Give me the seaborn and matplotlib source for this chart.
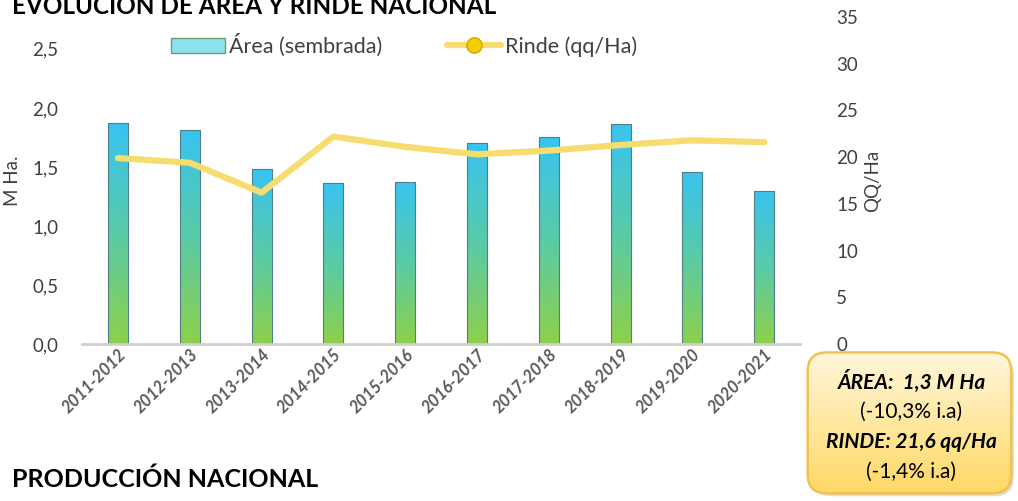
import numpy as np
import pandas as pd
import seaborn as sns
import matplotlib.pyplot as plt
from matplotlib.patches import Patch, FancyBboxPatch
from matplotlib.lines import Line2D
from matplotlib.colors import LinearSegmentedColormap

campanias = ['2011-2012', '2012-2013', '2013-2014', '2014-2015', '2015-2016',
             '2016-2017', '2017-2018', '2018-2019', '2019-2020', '2020-2021']
area = [1.87, 1.81, 1.48, 1.36, 1.37, 1.70, 1.75, 1.86, 1.46, 1.30]
rinde = [19.9, 19.4, 16.2, 22.2, 21.1, 20.3, 20.7, 21.3, 21.8, 21.6]
left_ticks = [0.0, 0.5, 1.0, 1.5, 2.0, 2.5]
right_ticks = [0, 5, 10, 15, 20, 25, 30, 35]

df = pd.DataFrame({'campania': campanias, 'area': area, 'rinde': rinde})

sns.set_theme(style='white')
plt.rcParams['font.family'] = ['Lato', 'DejaVu Sans']

fig = plt.figure(figsize=(10.18, 5.01), dpi=100)
ax = fig.add_axes([0.0806, 0.3134, 0.7054, 0.6527])

sns.barplot(data=df, x='campania', y='area', ax=ax, width=0.28,
            color='#3CC6F2', edgecolor='#4F7F86', linewidth=0.8)

# gradiente azul -> verde en cada barra
cmap = LinearSegmentedColormap.from_list('barra', ['#8ED04A', '#5ACBA6', '#38C3F2'])
grad = np.linspace(0, 1, 256).reshape(-1, 1)
for p in ax.patches:
    x0, w, h = p.get_x(), p.get_width(), p.get_height()
    im = ax.imshow(grad, cmap=cmap, origin='lower', aspect='auto',
                   extent=[x0, x0 + w, 0, h], zorder=p.get_zorder() + 0.1)
    im.set_clip_path(p)
    p.set_facecolor('none')
    p.set_zorder(p.get_zorder() + 0.2)

ax.set_xlim(-0.5, len(campanias) - 0.5)
ax.set_ylim(0, 2.77)
ax.set_yticks(left_ticks)
ax.set_yticklabels([f'{v:.1f}'.replace('.', ',') for v in left_ticks])
ax.tick_params(axis='y', length=0, pad=17, labelsize=13.5, labelcolor='#404040')
ax.tick_params(axis='x', length=0, pad=2)
ax.set_xticks(range(len(campanias)))
ax.set_xticklabels(campanias, rotation=45, ha='right', rotation_mode='anchor',
                   fontsize=12, fontweight='bold', style='italic', color='#595959')
ax.set_xlabel('')
ax.set_ylabel('M Ha.', fontsize=13.5, color='#404040', labelpad=8)
for s in ['top', 'right', 'left']:
    ax.spines[s].set_visible(False)
ax.spines['bottom'].set_color('#D0D0D0')
ax.spines['bottom'].set_linewidth(2)
ax.patch.set_alpha(0)

ax2 = ax.twinx()
sns.lineplot(x=np.arange(len(campanias)), y=df['rinde'], ax=ax2, color='#F7DC6F',
             linewidth=4.5, solid_capstyle='round', solid_joinstyle='round', sort=False)
ax2.set_ylim(0, 35)
ax2.set_yticks(right_ticks)
ax2.tick_params(axis='y', length=0, pad=26, labelsize=13.5, labelcolor='#404040')
ax2.set_ylabel('QQ/Ha', fontsize=13.5, color='#404040', labelpad=4)
for s in ['top', 'right', 'left', 'bottom']:
    ax2.spines[s].set_visible(False)
ax2.grid(False)
ax.grid(False)

handles = [
    Patch(facecolor='#8EE3F0', edgecolor='#6A9E6A', label='Área (sembrada)'),
    Line2D([0], [0], color='#F7DC6F', linewidth=4.5, marker='o', markersize=11,
           markerfacecolor='#F2CF00', markeredgecolor='#C9A800', label='Rinde (qq/Ha)'),
]
fig.legend(handles=handles, loc='center', bbox_to_anchor=(0.397, 0.91), ncol=2,
           frameon=False, fontsize=15.5, handlelength=2.5, handletextpad=0.2,
           columnspacing=3.0, labelcolor='#404040')

fig.text(0.012, 1 - 14 / 501, 'EVOLUCION DE AREA Y RINDE NACIONAL', fontsize=17.5,
         fontweight='bold', va='baseline', ha='left', color='black')
fig.text(0.012, 1 - 487 / 501, 'PRODUCCIÓN NACIONAL', fontsize=18,
         fontweight='bold', va='baseline', ha='left', color='black')

# recuadro resumen
bx = fig.add_axes([806 / 1018, 1 - 497 / 501, 211 / 1018, 146 / 501])
bx.set_xlim(0, 1)
bx.set_ylim(0, 1)
bx.axis('off')
shadow = FancyBboxPatch((0.03, 0.005), 0.955, 0.955, boxstyle='round,pad=0,rounding_size=0.09',
                        facecolor='#C8C8C8', edgecolor='none', alpha=0.6,
                        transform=bx.transAxes, mutation_aspect=211 / 146)
bx.add_patch(shadow)
box = FancyBboxPatch((0.008, 0.025), 0.965, 0.965, boxstyle='round,pad=0,rounding_size=0.09',
                     facecolor='none', edgecolor='#F2C14E', linewidth=1.8,
                     transform=bx.transAxes, mutation_aspect=211 / 146, zorder=3)
bx.add_patch(box)
ycmap = LinearSegmentedColormap.from_list('caja', ['#FFD862', '#FFF7DC'])
bim = bx.imshow(grad, cmap=ycmap, origin='lower', aspect='auto',
                extent=[0, 1, 0, 1], zorder=2)
bim.set_clip_path(box)
lines = [('ÁREA:  1,3 M Ha', 'bold', 'italic', 0.79),
         ('(-10,3% i.a)', 'normal', 'normal', 0.58),
         ('RINDE: 21,6 qq/Ha', 'bold', 'italic', 0.375),
         ('(-1,4% i.a)', 'normal', 'normal', 0.17)]
for txt, fw, st, yy in lines:
    bx.text(0.5, yy, txt, ha='center', va='center', fontsize=15, fontweight=fw,
            style=st, color='black', zorder=4)

fig.savefig('out.png', dpi=100)
